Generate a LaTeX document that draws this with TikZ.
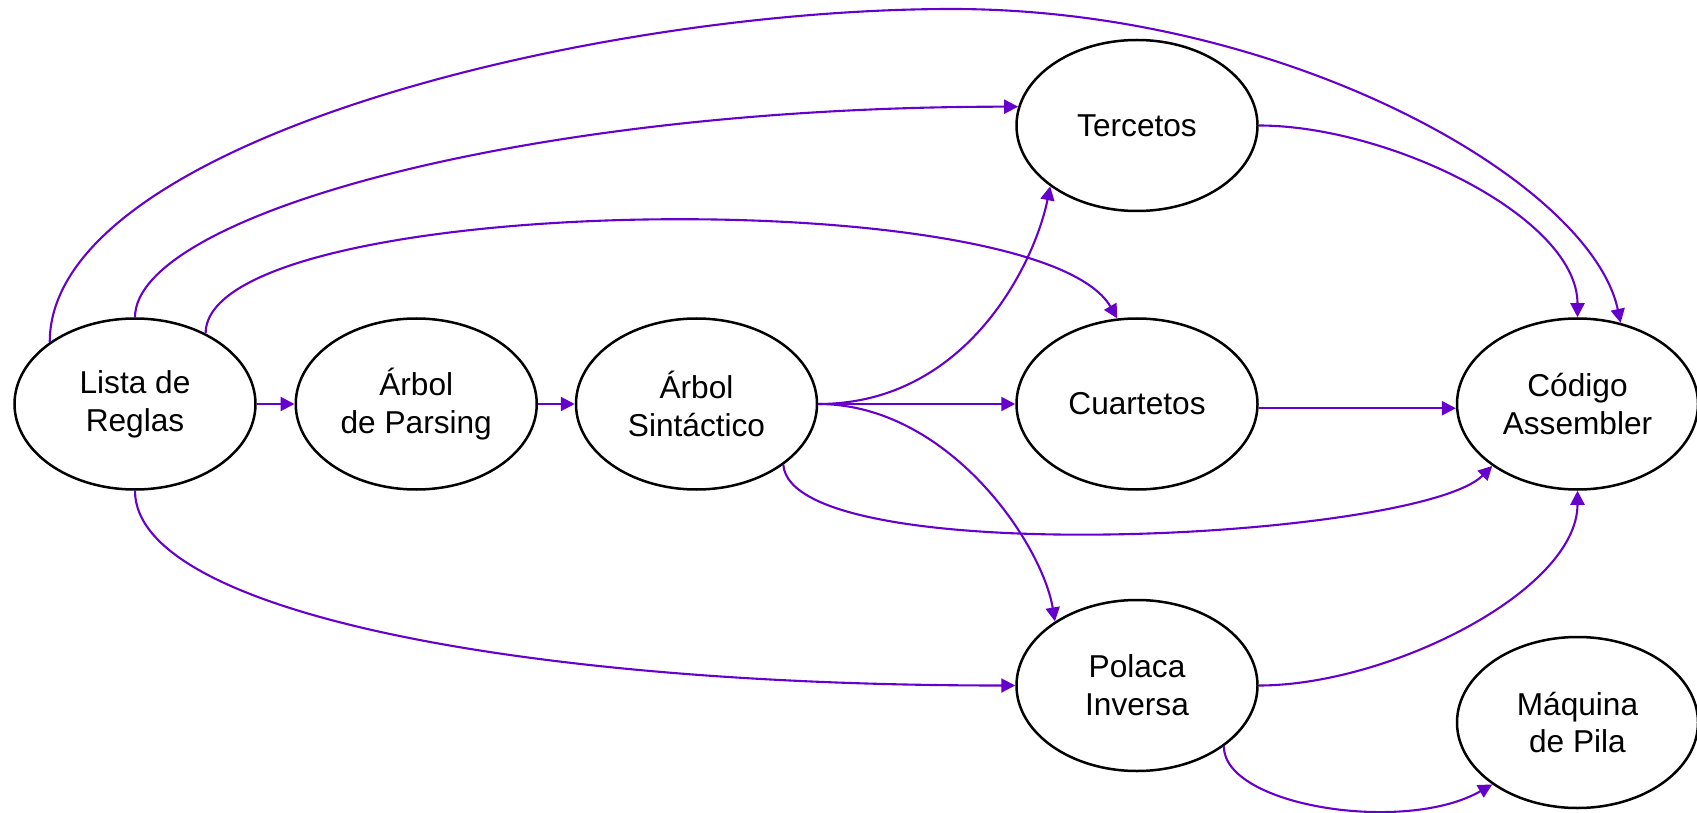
\documentclass[tikz,border=0pt]{standalone}
\usepackage{fontspec}
\setmainfont{Liberation Sans}
\usetikzlibrary{positioning, shapes.geometric, arrows.meta}
\definecolor{flowpurple}{HTML}{6600CC}

\begin{document}
\begin{tikzpicture}[
        stage/.style={draw, ellipse, line width=0.05cm, minimum width=4.82cm, minimum height=3.42cm, inner sep=0pt, align=center, font=\fontsize{18}{21.5}\selectfont},
        flow/.style={color=flowpurple, line width=0.042cm, -{Triangle[length=0.28cm, width=0.28cm]}}
    ]

        \useasboundingbox (0,0) rectangle (33.94,16.24);

        \node[stage] (LR) at (2.70,8.16) {Lista de\\Reglas};
        \node[stage, right=0.755cm of LR] (AP) {Árbol\\de Parsing};
        \node[stage, right=0.735cm of AP] (AS) {Árbol\\Sintáctico};
        \node[stage, right=3.94cm of AS] (CU) {Cuartetos};
        \node[stage, above=2.1cm of CU] (TE) {Tercetos};
        \node[stage, below=2.16cm of CU] (PI) {Polaca\\Inversa};
        \node[stage, right=3.94cm of CU] (CA) {Código\\Assembler};
        \node[stage, below=2.9cm of CA] (MP) {Máquina\\de Pila};
        \coordinate (topArc) at (19.04,16.06);

        % pipeline
        \draw[flow] (LR) -- (AP);
        \draw[flow] (AP) -- (AS);
        \draw[flow] (AS) -- (CU);
        \draw[flow] (AS.east) .. controls +(3,0) and +(-0.3,-1.5) .. (TE.215);
        \draw[flow] (AS.east) .. controls +(2.6,0) and +(-0.26,1.56) .. (PI.142);
        \draw[flow] (AS.-35) .. controls +(0.16,-2.14) and +(-1.48,-1.48) .. (CA.216);

        % from the rule list
        \draw[flow] (LR.144) .. controls +(0,4) and +(-7.22,0) .. (topArc)
            .. controls +(6.7,0) and +(-0.6,2.82) .. (CA.62);
        \draw[flow] (LR.north) .. controls +(0,2) and +(-10,0) .. (TE.171);
        \draw[flow] (LR.45) .. controls +(0,2.8) and +(-1.6,2.78) .. (CU.103);
        \draw[flow] (LR.south) .. controls +(0,-2.4) and +(-10,0) .. (PI.west);

        % to assembler
        \draw[flow] (TE.east) .. controls +(2.6,0) and +(0,2) .. (CA.north);
        \draw[flow] (CU.-2) -- (CA.-178);
        \draw[flow] (PI.east) .. controls +(2.6,0) and +(0,-2) .. (CA.south);
        \draw[flow] (PI.-35) .. controls +(0,-1.2) and +(-1.74,-1.0) .. (MP.216);

    \end{tikzpicture}
\end{document}
